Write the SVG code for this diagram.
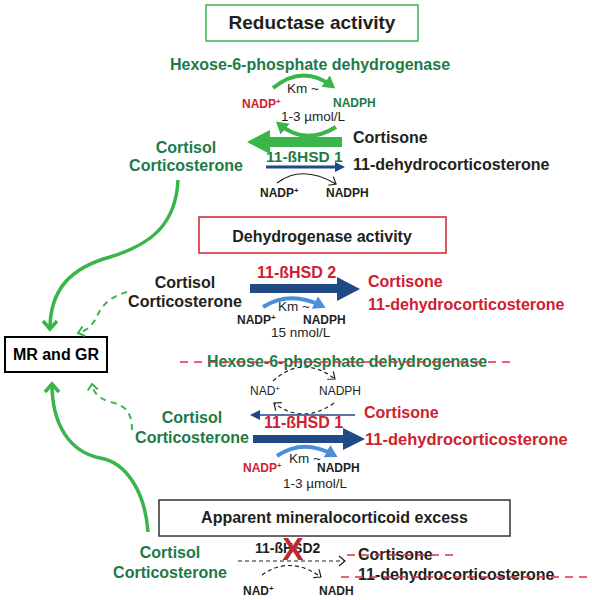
<svg xmlns="http://www.w3.org/2000/svg" width="592" height="600" viewBox="0 0 592 600">
<style>
text{font-family:"Liberation Sans",Arial,sans-serif}
.b{font-weight:bold}
.t16{font-size:16px}
.t12{font-size:12px}
.t13{font-size:13.5px}
.dg{fill:#1d7a46}
.rd{fill:#cf2030}
.bk{fill:#231f20}
.box{fill:#fff;stroke-width:1.5}
.gc{fill:none;stroke:#39b54a;stroke-width:3.5}
.gd{fill:none;stroke:#39b54a;stroke-width:2;stroke-dasharray:6,5}
.ga{fill:none;stroke:#39b54a;stroke-width:4}
.lb{fill:none;stroke:#4b8fd8;stroke-width:4}
.ka{fill:none;stroke:#231f20;stroke-width:1.2}
.kd{fill:none;stroke:#231f20;stroke-width:1.2;stroke-dasharray:4,3}
.strike{stroke:#e0303c;stroke-width:1.5;stroke-dasharray:8,6;fill:none}
.nv{fill:#1f4a85}
</style>
<defs>
<marker id="chev" markerUnits="userSpaceOnUse" viewBox="0 0 20 20" markerWidth="20" markerHeight="20" refX="11" refY="10" orient="auto">
<path d="M3,3 L11,10 L3,17" fill="none" stroke="#39b54a" stroke-width="3.5" stroke-linejoin="miter"/>
</marker>
<marker id="chevs" markerUnits="userSpaceOnUse" viewBox="0 0 20 20" markerWidth="20" markerHeight="20" refX="10" refY="10" orient="auto">
<path d="M4,5 L10,10 L4,15" fill="none" stroke="#39b54a" stroke-width="2"/>
</marker>
<marker id="triG" markerUnits="userSpaceOnUse" viewBox="0 0 20 20" markerWidth="20" markerHeight="20" refX="8" refY="10" orient="auto">
<path d="M0,3 L12,10 L0,17 Z" fill="#39b54a"/>
</marker>
<marker id="triB" markerUnits="userSpaceOnUse" viewBox="0 0 20 20" markerWidth="20" markerHeight="20" refX="8" refY="10" orient="auto">
<path d="M0,3 L12,10 L0,17 Z" fill="#4b8fd8"/>
</marker>
<marker id="opK" markerUnits="userSpaceOnUse" viewBox="0 0 20 20" markerWidth="20" markerHeight="20" refX="10" refY="10" orient="auto">
<path d="M4,5 L10,10 L4,15" fill="none" stroke="#231f20" stroke-width="1.2"/>
</marker>
<marker id="triN" markerUnits="userSpaceOnUse" viewBox="0 0 20 20" markerWidth="20" markerHeight="20" refX="2" refY="10" orient="auto">
<path d="M0,5 L10,10 L0,15 Z" fill="#1f4a85"/>
</marker>
</defs>

<g id="reductase-title">
<rect class="box" x="206" y="5" width="212" height="36" stroke="#39b54a"/>
<text x="312" y="29" text-anchor="middle" class="b bk" font-size="19">Reductase activity</text>
</g>
<g id="h6pdh-top">
<text x="310" y="70" text-anchor="middle" class="b t16 dg">Hexose-6-phosphate dehydrogenase</text>
<text x="287" y="93" class="t13 bk">Km ~</text>
<text x="242" y="108" class="b t12 rd">NADP<tspan font-size="8" dy="-4">+</tspan></text>
<text x="333" y="107" class="b t12 dg">NADPH</text>
<text x="281" y="121" class="t13 bk">1-3 µmol/L</text>
</g>
<g id="cortisol-1">
<text x="186" y="153" text-anchor="middle" class="b t16 dg">Cortisol</text>
<text x="186" y="171" text-anchor="middle" class="b t16 dg">Corticosterone</text>
</g>
<g id="cortisone-1">
<text x="353" y="143" class="b t16 bk">Cortisone</text>
<text x="353" y="170" class="b t16 bk">11-dehydrocorticosterone</text>
</g>
<g id="hsd1-top">
<text x="266" y="162" class="b dg" font-size="15.5">11-ßHSD 1</text>
<text x="260" y="197" class="b t12 bk">NADP<tspan font-size="8" dy="-4">+</tspan></text>
<text x="326" y="197" class="b t12 bk">NADPH</text>
</g>

<g id="dehydrogenase-title">
<rect class="box" x="199" y="217" width="247" height="36" stroke="#d2232a"/>
<text x="322" y="242" text-anchor="middle" class="b t16 bk">Dehydrogenase activity</text>
</g>
<g id="cortisol-2">
<text x="185" y="288" text-anchor="middle" class="b t16 bk">Cortisol</text>
<text x="185" y="307" text-anchor="middle" class="b t16 bk">Corticosterone</text>
</g>
<g id="hsd2">
<text x="257" y="278" class="b t16 rd">11-ßHSD 2</text>
<text x="278" y="311" class="t13 bk">Km ~</text>
<text x="237" y="324" class="b t12 bk">NADP<tspan font-size="8" dy="-4">+</tspan></text>
<text x="303" y="324" class="b t12 bk">NADPH</text>
<text x="271" y="337" class="t13 bk">15 nmol/L</text>
</g>
<g id="cortisone-2">
<text x="368" y="287" class="b t16 rd">Cortisone</text>
<text x="368" y="310" class="b t16 rd">11-dehydrocorticosterone</text>
</g>

<g id="mr-gr">
<rect x="5" y="337" width="102" height="35" fill="#fff" stroke="#000" stroke-width="2"/>
<text x="56" y="360" text-anchor="middle" class="b t16" fill="#000">MR and GR</text>
</g>

<g id="h6pdh-absent">
<text x="347" y="367" text-anchor="middle" class="b t16 dg">Hexose-6-phosphate dehydrogenase</text>
<line class="strike" x1="180" y1="362" x2="514" y2="362"/>
<text x="250" y="395" class="t12 bk">NAD<tspan font-size="8" dy="-4">+</tspan></text>
<text x="319" y="395" class="t12 bk">NADPH</text>
</g>
<g id="cortisone-3">
<text x="364" y="418" class="b t16 rd">Cortisone</text>
<text x="365" y="445" class="b rd" font-size="16.5">11-dehydrocorticosterone</text>
</g>
<g id="cortisol-3">
<text x="192" y="423" text-anchor="middle" class="b t16 dg">Cortisol</text>
<text x="192" y="443" text-anchor="middle" class="b t16 dg">Corticosterone</text>
</g>
<g id="hsd1-bottom">
<text x="264" y="428" class="b t16 rd">11-ßHSD 1</text>
<text x="289" y="463" class="t13 bk">Km ~</text>
<text x="243" y="472" class="b t12 rd">NADP<tspan font-size="8" dy="-4">+</tspan></text>
<text x="317" y="472" class="b t12 bk">NADPH</text>
<text x="283" y="488" class="t13 bk">1-3 µmol/L</text>
</g>

<g id="ame-title">
<rect class="box" x="159" y="500" width="351" height="36" stroke="#333"/>
<text x="334.5" y="523" text-anchor="middle" class="b t16 bk">Apparent mineralocorticoid excess</text>
</g>
<g id="cortisol-4">
<text x="170" y="558" text-anchor="middle" class="b t16 dg">Cortisol</text>
<text x="170" y="578" text-anchor="middle" class="b t16 dg">Corticosterone</text>
</g>
<g id="hsd2-blocked">
<text x="255" y="553" class="b bk" font-size="14">11-ßHSD2</text>
<text x="293" y="560" text-anchor="middle" class="b" font-size="32" fill="#c1272d">X</text>
<text x="243" y="595" class="b t12 bk">NAD<tspan font-size="8" dy="-4">+</tspan></text>
<text x="319" y="595" class="b t12 bk">NADH</text>
</g>
<g id="cortisone-4">
<text x="358" y="560" class="b t16 bk">Cortisone</text>
<line class="strike" x1="347" y1="555" x2="453" y2="555" stroke-dasharray="7,5"/>
<text x="358" y="580" class="b t16 bk">11-dehydrocorticosterone</text>
<line class="strike" x1="341" y1="577" x2="592" y2="577" stroke-dasharray="7,5"/>
</g>

<g id="connectors">
<path class="gc" d="M178,180 C176,225 150,245 110,257 C70,268 50,290 50,329" marker-end="url(#chev)"/>
<path class="gd" d="M127,292 C105,298 100,310 95,320 C90,328 85,331 78,333" marker-end="url(#chevs)"/>
<path class="gc" d="M148,532 C145,490 125,462 100,458 C70,452 52,425 52,384" marker-end="url(#chev)"/>
<path class="gd" d="M132,430 C132,412 125,405 110,402 C98,398 93,392 92,384" marker-end="url(#chevs)"/>
<path class="ga" d="M273,88 Q303,64 332,86" marker-end="url(#triG)"/>
<path class="ga" d="M336,127 Q305,146 279,124" marker-end="url(#triG)"/>
<polygon fill="#39b54a" points="342,137 270,137 270,130 247,142 270,154 270,147 342,147"/>
<line x1="266" y1="167" x2="337" y2="167" stroke="#1f4a85" stroke-width="3" marker-end="url(#triN)"/>
<path class="ka" d="M277,183 Q302,164 336,184" marker-end="url(#opK)"/>
<polygon class="nv" points="250,284 337,284 337,277 360,289 337,301 337,293 250,293"/>
<path class="lb" d="M263,307 Q290,290 322,306" marker-end="url(#triB)"/>
<path class="kd" d="M273,381 Q303,354 335,379" marker-end="url(#opK)"/>
<path class="kd" d="M334,403 Q303,425 274,403" marker-end="url(#opK)"/>
<line x1="355" y1="415" x2="258" y2="415" stroke="#1f4a85" stroke-width="1.5" marker-end="url(#triN)"/>
<polygon class="nv" points="253,435 343,435 343,428 365,439 343,450 343,443 253,443"/>
<path class="lb" d="M277,456 Q303,438 334,455" marker-end="url(#triB)"/>
<line class="kd" x1="238" y1="561" x2="345" y2="561" marker-end="url(#opK)"/>
<path class="kd" d="M262,575 Q290,555 321,577" marker-end="url(#opK)"/>
</g>
</svg>
